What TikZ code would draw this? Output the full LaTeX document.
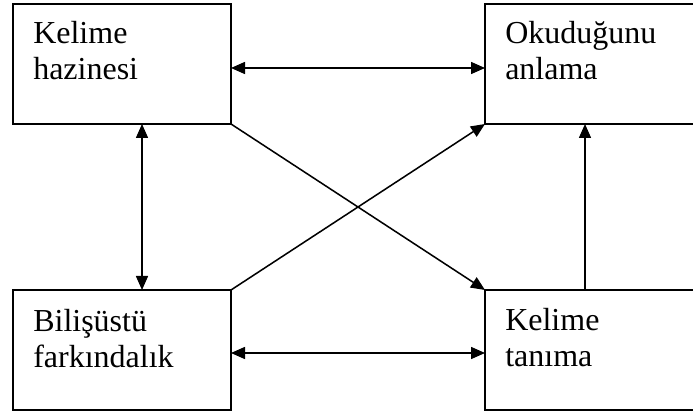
\documentclass[tikz,border=0pt]{standalone}
\usepackage{fontspec}
\setmainfont{Liberation Serif}
\usetikzlibrary{arrows.meta}

\begin{document}
\begin{tikzpicture}[x=0.75pt, y=-0.75pt,
  box/.style={draw, line width=1.4pt, minimum width=218*0.75pt, minimum height=120*0.75pt, inner sep=0pt, outer sep=0pt},
  wide/.style={box, minimum width=220*0.75pt},
  lbl/.style={anchor=base west, inner sep=0pt, text width=180pt, align=left, font=\fontsize{24}{27}\selectfont},
  link/.style={line width=1.15pt, -{Triangle[length=10.5pt, width=9pt]}},
  twoway/.style={link, {Triangle[length=10.5pt, width=9pt]}-{Triangle[length=10.5pt, width=9pt]}}]
\clip (0,0) rectangle (693,413);

\node[box] (kh) at (122,64) {};
\node[wide] (oa) at (595,64) {};
\node[box] (bf) at (122,350) {};
\node[wide] (kt) at (595,350) {};

\node[lbl] (khtext) at ([shift={(20,40)}]kh.north west) {Kelime\\hazinesi};
\node[lbl] (oatext) at ([shift={(20,40)}]oa.north west) {Okuduğunu\\anlama};
\node[lbl] (bftext) at ([shift={(20,42)}]bf.north west) {Bilişüstü\\farkındalık};
\node[lbl] (kttext) at ([shift={(20,41)}]kt.north west) {Kelime\\tanıma};

\draw[twoway] ([shift={(0,4)}]kh.east) -- ([shift={(0,4)}]oa.west);
\draw[twoway] ([shift={(0,3)}]bf.east) -- ([shift={(0,3)}]kt.west);
\draw[twoway] ([shift={(20,0)}]kh.south) -- ([shift={(20,0)}]bf.north);
\draw[link] ([shift={(-10,0)}]kt.north) -- ([shift={(-10,0)}]oa.south);
\draw[link] (kh.south east) -- (kt.north west);
\draw[link] (bf.north east) -- (oa.south west);
\end{tikzpicture}
\end{document}
